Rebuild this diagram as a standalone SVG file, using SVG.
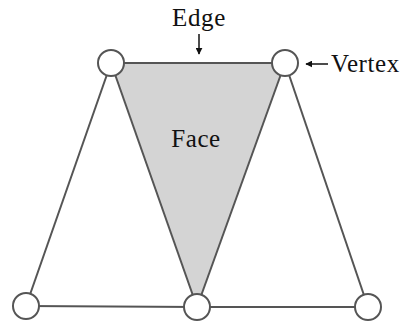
<svg xmlns="http://www.w3.org/2000/svg" width="405" height="327" viewBox="0 0 405 327">
<defs>
<style>
.ln{stroke:#555;stroke-width:2;fill:none}
.v{fill:#fff;stroke:#555;stroke-width:2}
.t{font-family:"Liberation Serif","DejaVu Serif",serif;font-size:25px;letter-spacing:0.6px;fill:#111}
</style>
<marker id="ah" viewBox="0 0 10 10" refX="9" refY="5" markerWidth="7" markerHeight="7" orient="auto" markerUnits="userSpaceOnUse">
<path d="M0,0 L10,5 L0,10 z" fill="#111"/>
</marker>
</defs>
<rect width="405" height="327" fill="#fff"/>
<g id="face">
<polygon points="111,63 285,63 197,307" fill="#d4d4d4"/>
<text class="t" x="196" y="147" text-anchor="middle">Face</text>
</g>
<g id="connectors">
<line class="ln" x1="111" y1="63" x2="285" y2="63"/>
<line class="ln" x1="111" y1="63" x2="26" y2="306"/>
<line class="ln" x1="111" y1="63" x2="197" y2="307"/>
<line class="ln" x1="285" y1="63" x2="197" y2="307"/>
<line class="ln" x1="285" y1="63" x2="368" y2="307"/>
<line class="ln" x1="26" y1="306" x2="197" y2="307"/>
<line class="ln" x1="197" y1="307" x2="368" y2="307"/>
<line x1="199" y1="34" x2="199" y2="54" stroke="#111" stroke-width="1.5" marker-end="url(#ah)"/>
<line x1="328" y1="64" x2="306" y2="64" stroke="#111" stroke-width="1.5" marker-end="url(#ah)"/>
</g>
<g id="v1"><circle class="v" cx="111" cy="63" r="13"/></g>
<g id="v2"><circle class="v" cx="285" cy="63" r="13"/></g>
<g id="v3"><circle class="v" cx="26" cy="306" r="13"/></g>
<g id="v4"><circle class="v" cx="197" cy="307" r="13"/></g>
<g id="v5"><circle class="v" cx="368" cy="307" r="13"/></g>
<g id="edge-label"><text class="t" x="199" y="26" text-anchor="middle">Edge</text></g>
<g id="vertex-label"><text class="t" x="331" y="72">Vertex</text></g>
</svg>
